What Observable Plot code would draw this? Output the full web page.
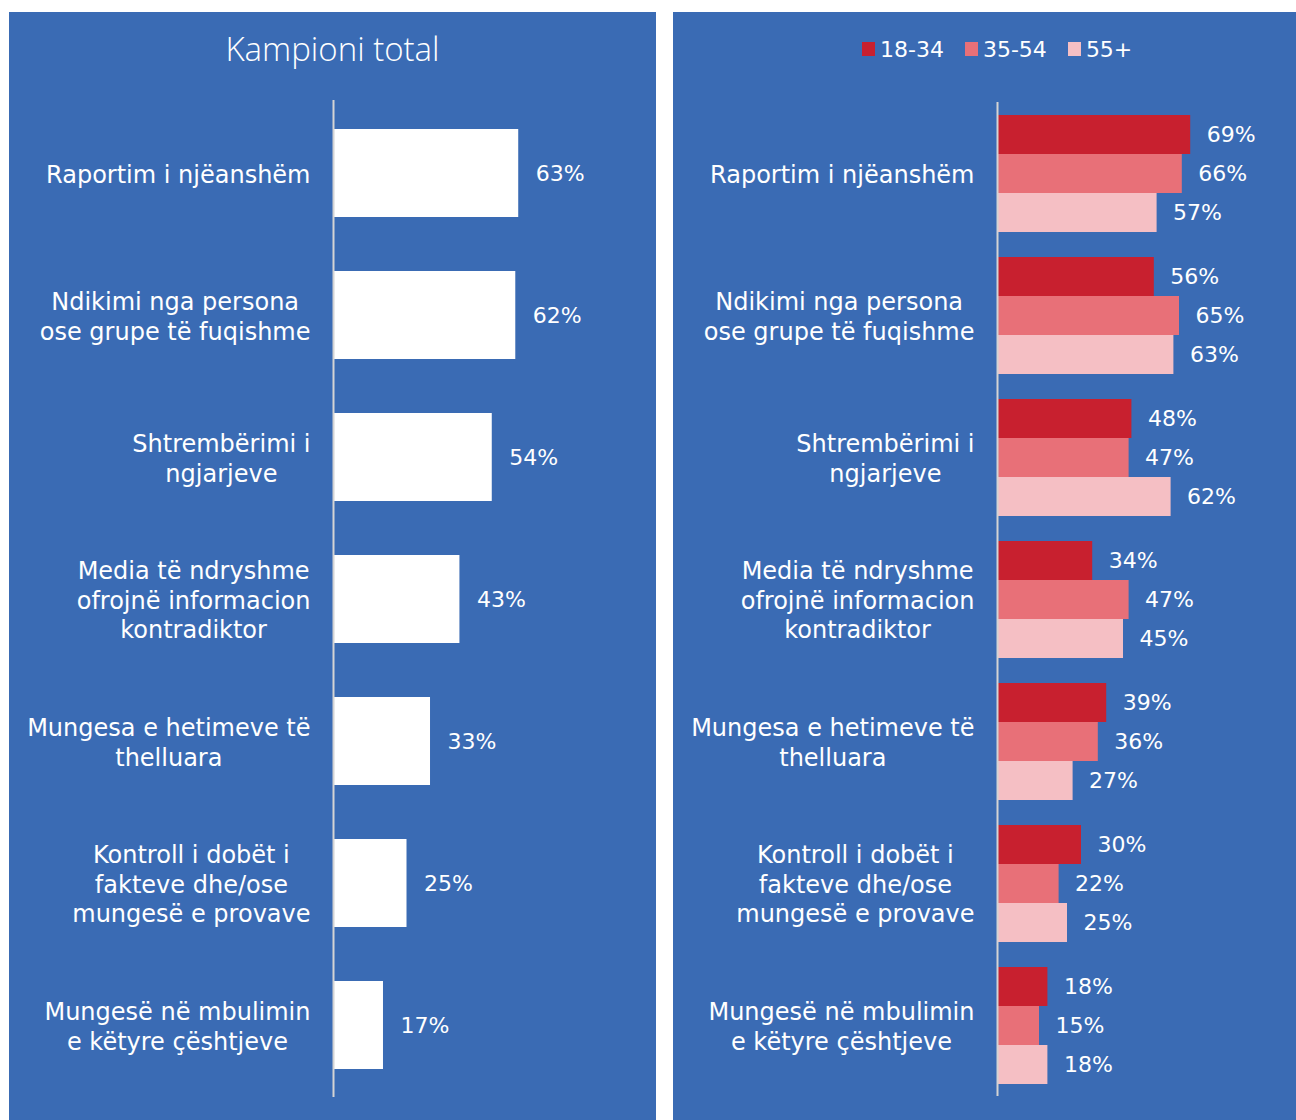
<!DOCTYPE html>
<html><head><meta charset="utf-8">
<script src="https://cdn.jsdelivr.net/npm/d3@7"></script>
<script src="https://cdn.jsdelivr.net/npm/@observablehq/plot@0.6"></script>
<style>
body{margin:0;background:#fff;width:1296px;height:1120px;position:relative;overflow:hidden;font-family:"DejaVu Sans",sans-serif;}
.panel{position:absolute;top:12px;height:1108px;background:#3a6bb4;}
#left{left:9px;width:647px;}
#right{left:673px;width:623px;}
.panel svg{position:absolute;left:0;top:0;}
.title{position:absolute;left:0;top:17px;width:100%;height:40px;line-height:40px;text-align:center;color:#fff;font-family:"Open Sans",sans-serif;font-weight:300;font-size:33px;}
.legend{position:absolute;left:189px;top:22px;height:30px;display:flex;align-items:center;color:#fff;font-size:22px;font-family:"DejaVu Sans",sans-serif;}
.legend .item{display:flex;align-items:center;margin-right:21px;}
.legend .sw{width:13px;height:14px;margin-right:5px;}
</style>
</head><body>
<div class="panel" id="left"><div class="title">Kampioni total</div></div>
<div class="panel" id="right"><div class="legend" id="legend"></div></div>
<script>
const categories = [
  "Raportim i njëanshëm",
  "Ndikimi nga persona\nose grupe të fuqishme",
  "Shtrembërimi i\nngjarjeve",
  "Media të ndryshme\nofrojnë informacion\nkontradiktor",
  "Mungesa e hetimeve të\nthelluara",
  "Kontroll i dobët i\nfakteve dhe/ose\nmungesë e provave",
  "Mungesë në mbulimin\ne këtyre çështjeve"
];
const total = [63, 62, 54, 43, 33, 25, 17];
const groups = ["18-34", "35-54", "55+"];
const age1834 = [69, 56, 48, 34, 39, 30, 18];
const age3554 = [66, 65, 47, 47, 36, 22, 15];
const age55 = [57, 63, 62, 45, 27, 25, 18];
const groupColors = ["#c8202f", "#e87078", "#f5bfc4"];

const totalData = categories.map((c, i) => ({cat: c, value: total[i]}));
const ageSeries = [age1834, age3554, age55];
const ageData = [];
categories.forEach((c, i) => groups.forEach((g, j) => ageData.push({cat: c, group: g, value: ageSeries[j][i]})));

const font = '"DejaVu Sans", sans-serif';
const axisColor = "#d4d4d4";

function centerLabels(svg) {
  svg.querySelectorAll("text").forEach(t => {
    if (t.textContent.trim().endsWith("%")) return;
    const w = t.getBBox().width;
    t.setAttribute("text-anchor", "middle");
    t.setAttribute("transform", (t.getAttribute("transform") || "") + ` translate(${-w / 2},0)`);
  });
}

const left = Plot.plot({
  width: 647, height: 1108,
  marginLeft: 324, marginRight: 29, marginTop: 88, marginBottom: 23,
  x: {domain: [0, 100], axis: null},
  y: {domain: categories, axis: null, paddingInner: 0.383, paddingOuter: 0.1915},
  style: {background: "transparent", color: "white", fontFamily: font, overflow: "visible"},
  marks: [
    Plot.barX(totalData, {x: "value", y: "cat", fill: "white"}),
    Plot.ruleX([0], {stroke: axisColor, strokeWidth: 2}),
    Plot.text(totalData, {x: "value", y: "cat", text: d => d.value + "%", textAnchor: "start", dx: 17, fill: "white", fontSize: 22}),
    Plot.text(totalData, {y: "cat", text: "cat", frameAnchor: "left", textAnchor: "end", dx: -23, fill: "white", fontSize: 24, lineHeight: 1.23})
  ]
});
document.getElementById("left").appendChild(left);
centerLabels(left);

const right = Plot.plot({
  width: 623, height: 1108,
  marginLeft: 324, marginRight: 19, marginTop: 88, marginBottom: 23,
  x: {domain: [0, 100], axis: null},
  fy: {domain: categories, axis: null, padding: 0},
  y: {domain: groups, axis: null, paddingInner: 0, paddingOuter: 0.31},
  color: {domain: groups, range: groupColors},
  style: {background: "transparent", color: "white", fontFamily: font, overflow: "visible"},
  marks: [
    Plot.barX(ageData, {fy: "cat", y: "group", x: "value", fill: "group"}),
    Plot.ruleX([0], {stroke: axisColor, strokeWidth: 2}),
    Plot.text(ageData, {fy: "cat", y: "group", x: "value", text: d => d.value + "%", textAnchor: "start", dx: 16, fill: "white", fontSize: 22}),
    Plot.text(categories, {fy: d => d, text: d => d, frameAnchor: "left", textAnchor: "end", dx: -23, fill: "white", fontSize: 24, lineHeight: 1.23})
  ]
});
document.getElementById("right").appendChild(right);
centerLabels(right);

const legend = document.getElementById("legend");
groups.forEach((g, j) => {
  const item = document.createElement("div");
  item.className = "item";
  item.innerHTML = `<span class="sw" style="background:${groupColors[j]}"></span><span>${g}</span>`;
  legend.appendChild(item);
});
</script>
</body></html>
